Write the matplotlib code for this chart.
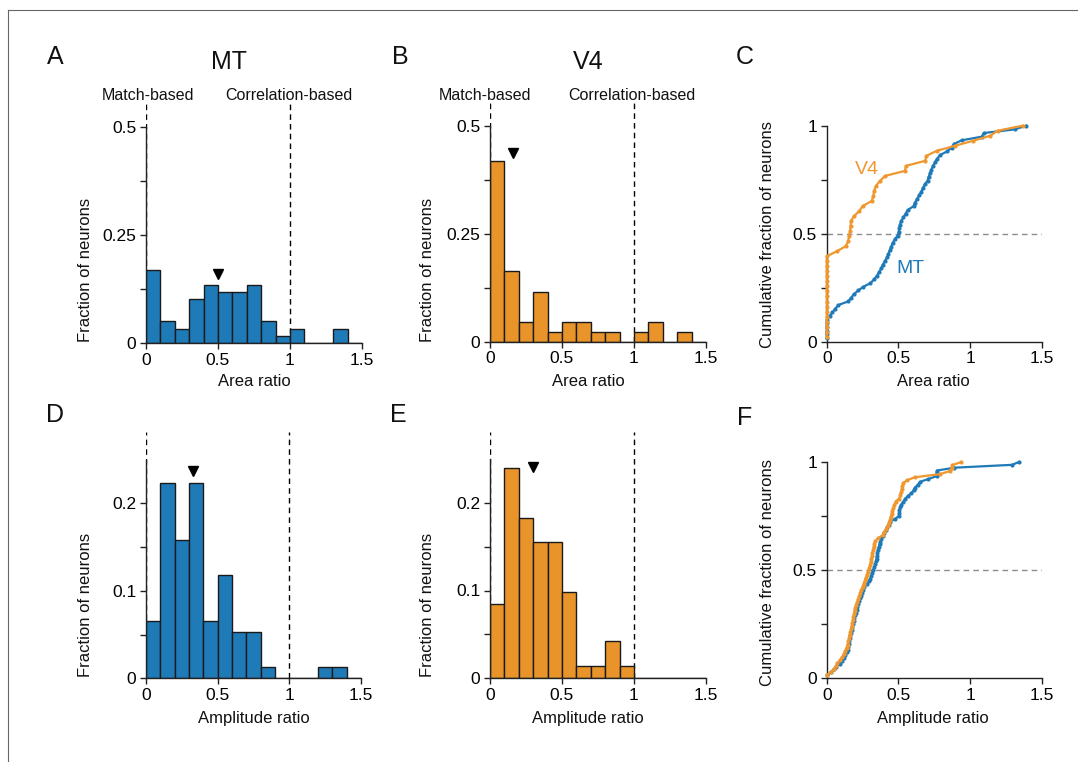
import numpy as np
import matplotlib
matplotlib.use("Agg")
import matplotlib.pyplot as plt
from matplotlib.lines import Line2D

plt.rcParams['font.family'] = ['Liberation Sans', 'DejaVu Sans']

# ---------------- data (sorted per-neuron ratios, read from the CDFs / histograms) --------------
mt_area = [0, 0, 0, 0, 0, 0.005, 0.02, 0.04, 0.06, 0.08,
           0.15, 0.17, 0.19,
           0.22, 0.255,
           0.305, 0.33, 0.35, 0.365, 0.38, 0.39,
           0.405, 0.42, 0.43, 0.44, 0.45, 0.46, 0.475, 0.495,
           0.502, 0.505, 0.51, 0.52, 0.535, 0.55, 0.565,
           0.605, 0.615, 0.63, 0.645, 0.66, 0.67, 0.685,
           0.703, 0.71, 0.72, 0.73, 0.74, 0.755, 0.77, 0.79,
           0.84, 0.87, 0.886,
           0.94, 1.08, 1.095, 1.31, 1.39]

v4_area = [0] * 17 + [0.07,
           0.132, 0.15, 0.155, 0.162, 0.166, 0.169, 0.19,
           0.227, 0.25,
           0.313, 0.325, 0.33, 0.343, 0.371,
           0.406,
           0.545, 0.552,
           0.685, 0.695,
           0.766, 0.893, 1.02, 1.14, 1.19, 1.365]

mt_amp = [0.005, 0.03, 0.05, 0.065, 0.09,
          0.105, 0.12, 0.13, 0.14, 0.145, 0.15, 0.153, 0.156, 0.16, 0.165, 0.17, 0.175,
          0.178, 0.182, 0.187, 0.192, 0.197,
          0.203, 0.208, 0.213, 0.218, 0.224, 0.23, 0.236, 0.245, 0.252, 0.262, 0.278, 0.292,
          0.305, 0.31, 0.316, 0.324, 0.332, 0.339, 0.343, 0.347, 0.35, 0.353, 0.356, 0.362,
          0.368, 0.373, 0.38, 0.39, 0.398,
          0.41, 0.42, 0.432, 0.442, 0.478,
          0.502, 0.504, 0.507, 0.512, 0.52, 0.535, 0.546, 0.565, 0.59,
          0.605, 0.615, 0.635, 0.65,
          0.707, 0.765, 0.766, 0.768,
          0.89, 1.29, 1.34]

v4_amp = [0.0, 0.03, 0.05, 0.065, 0.075, 0.095,
          0.11, 0.12, 0.13, 0.138, 0.145, 0.15, 0.155, 0.16, 0.165, 0.17, 0.174, 0.178,
          0.182, 0.186, 0.19, 0.194, 0.198,
          0.205, 0.213, 0.22, 0.228, 0.235, 0.242, 0.25, 0.258, 0.266, 0.272, 0.28, 0.288, 0.296,
          0.302, 0.306, 0.31, 0.314, 0.318, 0.322, 0.327, 0.332, 0.338, 0.36, 0.39,
          0.402, 0.415, 0.424, 0.432, 0.44, 0.446, 0.452, 0.458, 0.465, 0.472, 0.48,
          0.505, 0.512, 0.518, 0.523, 0.527, 0.531, 0.56,
          0.615, 0.788, 0.857, 0.87, 0.876, 0.938]

median_marker_y = {'A': 0.16, 'B': 0.438, 'D': 0.237, 'E': 0.241}

BLUE = '#1f7ab8'
ORANGE = '#e8942a'
ORANGE_LINE = '#f0972f'

W, H = 1078, 762
fig = plt.figure(figsize=(W / 100, H / 100), dpi=100)


def px_axes(x0, y0, x1, y1):
    """x0,x1 : pixel x of data-left/right ; y0 : pixel y of bottom ; y1 : pixel y of top"""
    return fig.add_axes([x0 / W, 1 - y0 / H, (x1 - x0) / W, (y0 - y1) / H])


def ftext(x, y, s, **kw):
    fig.text(x / W, 1 - y / H, s, **kw)


def style(ax, ytop_spine, yticks, ylabels):
    for s in ['top', 'right']:
        ax.spines[s].set_visible(False)
    ax.spines['left'].set_bounds(0, ytop_spine)
    ax.spines['bottom'].set_bounds(0, 1.5)
    for s in ['left', 'bottom']:
        ax.spines[s].set_linewidth(1.0)
        ax.spines[s].set_color('#222222')
    ax.set_xlim(0, 1.5)
    ax.set_xticks([0, 0.5, 1, 1.5])
    ax.set_xticklabels(['0', '0.5', '1', '1.5'])
    ax.set_yticks(yticks)
    ax.set_yticklabels(ylabels)
    ax.tick_params(direction='out', length=4, width=1, labelsize=12.5, color='#222222', pad=3)


bins = np.linspace(0, 1.5, 16)


def hist_panel(ax, vals, color, key, ytop):
    vals = np.asarray(vals)
    w = np.full(len(vals), 1.0 / len(vals))
    ax.hist(vals, bins=bins, weights=w, color=color, edgecolor='#1a1a1a', linewidth=1.0, zorder=2)
    ax.axvline(0, color='k', lw=1, ls=(0, (4, 3)), zorder=1)
    ax.axvline(1, color='k', lw=1, ls=(0, (4, 3)), zorder=1)
    ax.plot([np.median(vals)], [median_marker_y[key]], marker='v', color='k', ms=7, ls='none', zorder=3)
    ax.set_ylim(0, ytop)


def cdf_panel(ax, a, b):
    ax.axhline(0.5, color='#8c8c8c', lw=1, ls=(0, (4, 3)), zorder=1)
    for vals, c in [(a, BLUE), (b, ORANGE_LINE)]:
        v = np.sort(np.asarray(vals))
        y = np.arange(1, len(v) + 1) / len(v)
        ax.plot(v, y, color=c, lw=1.6, marker='o', ms=3, mew=0, clip_on=False, zorder=3)
    ax.set_ylim(0, 1.03)


# ---- panel A
axA = px_axes(146, 343.3, 362, 103)
hist_panel(axA, mt_area, BLUE, 'A', 0.555)
style(axA, 0.5, [0, 0.125, 0.25, 0.375, 0.5], ['0', '', '0.25', '', '0.5'])

# ---- panel B
axB = px_axes(490, 341.7, 706, 103)
hist_panel(axB, v4_area, ORANGE, 'B', 0.553)
style(axB, 0.5, [0, 0.125, 0.25, 0.375, 0.5], ['0', '', '0.25', '', '0.5'])

# ---- panel C
axC = px_axes(826.7, 341.7, 1042, 341.7 - 1.03 * 216)
cdf_panel(axC, mt_area, v4_area)
style(axC, 1.0, [0, 0.25, 0.5, 0.75, 1], ['0', '', '0.5', '', '1'])
axC.text(0.28, 0.795, 'V4', color=ORANGE_LINE, fontsize=14, ha='center', va='center')
axC.text(0.58, 0.34, 'MT', color=BLUE, fontsize=14, ha='center', va='center')

# ---- panel D
axD = px_axes(146, 678.3, 361, 678.3 - 0.281 * 875)
hist_panel(axD, mt_amp, BLUE, 'D', 0.281)
style(axD, 0.25, [0, 0.05, 0.1, 0.15, 0.2], ['0', '', '0.1', '', '0.2'])

# ---- panel E
axE = px_axes(490, 678.3, 706, 678.3 - 0.28 * 878)
hist_panel(axE, v4_amp, ORANGE, 'E', 0.28)
style(axE, 0.25, [0, 0.05, 0.1, 0.15, 0.2], ['0', '', '0.1', '', '0.2'])

# ---- panel F
axF = px_axes(826.7, 678, 1042, 678 - 1.03 * 216)
cdf_panel(axF, mt_amp, v4_amp)
style(axF, 1.0, [0, 0.25, 0.5, 0.75, 1], ['0', '', '0.5', '', '1'])

# ---- labels
lab = dict(fontsize=12, color='#111111', ha='center', va='center')
for x in (85, 428):
    ftext(x, 270, 'Fraction of neurons', rotation=90, **lab)
    ftext(x, 605, 'Fraction of neurons', rotation=90, **lab)
ftext(768, 235, 'Cumulative fraction of neurons', rotation=90, **lab)
ftext(768, 572, 'Cumulative fraction of neurons', rotation=90, **lab)
for x in (254, 588):
    ftext(x, 381, 'Area ratio', **lab)
    ftext(x, 719, 'Amplitude ratio', **lab)
ftext(933, 382, 'Area ratio', **lab)
ftext(933, 719, 'Amplitude ratio', **lab)

small = dict(fontsize=11.5, color='#111111', ha='center', va='center')
ftext(148, 96, 'Match-based', **small)
ftext(289, 96, 'Correlation-based', **small)
ftext(485, 96, 'Match-based', **small)
ftext(632, 96, 'Correlation-based', **small)

big = dict(fontsize=18, color='#111111', ha='center', va='center')
ftext(229, 62, 'MT', **big)
ftext(588, 62, 'V4', **big)
for s, x, y in [('A', 55, 57), ('B', 400, 57), ('C', 745, 57), ('D', 55, 415), ('E', 398, 415), ('F', 745, 418)]:
    ftext(x, y, s, **big)

# thin frame lines at top and left of the figure
fig.add_artist(Line2D([8 / W, 1], [1 - 10 / H, 1 - 10 / H], color='#666666', lw=0.8))
fig.add_artist(Line2D([8 / W, 8 / W], [0, 1 - 10 / H], color='#666666', lw=0.8))

fig.savefig('out.png', dpi=100)
